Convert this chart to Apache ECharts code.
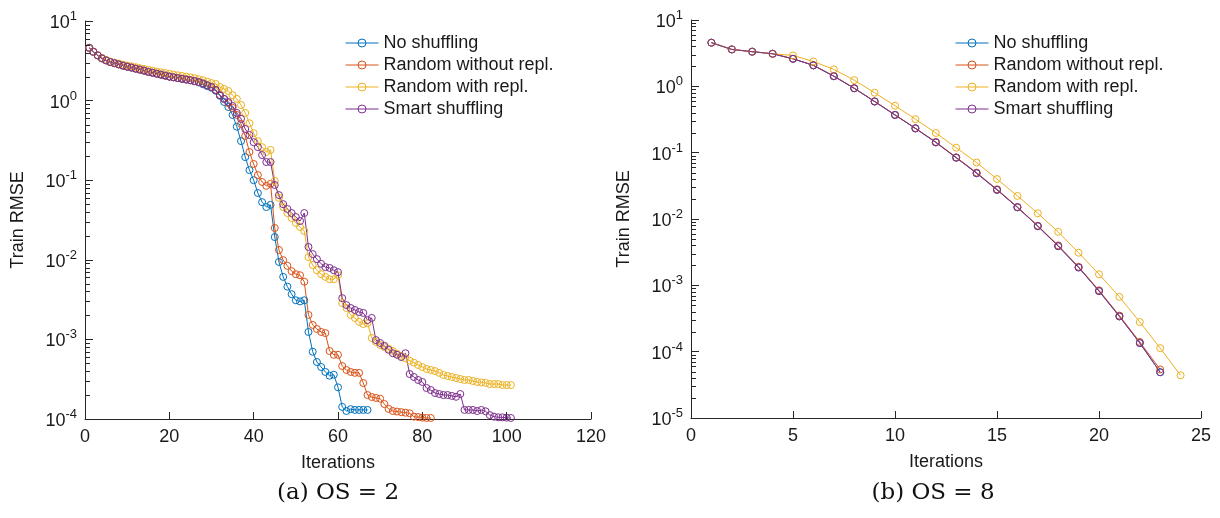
<!DOCTYPE html>
<html>
<head>
<meta charset="utf-8">
<script src="https://cdn.jsdelivr.net/npm/echarts@6/dist/echarts.min.js"></script>
<style>
    html, body { margin: 0; background: #fff; }
    #chart { width: 1220px; height: 518px; }
</style>
</head>
<body>
<div id="chart"></div>
<script>
// series names & colors (MATLAB default order)
const seriesNames = ['No shuffling', 'Random without repl.', 'Random with repl.', 'Smart shuffling']
const seriesColors = ['#0072BD', '#D95319', '#EDB120', '#7E2F8E']

// (a) OS = 2 : train RMSE per iteration (iteration 1..n)
const os2NoShuffle = [4.6, 4.1, 3.7, 3.4, 3.2, 3.05, 2.95, 2.85, 2.75, 2.67, 2.6, 2.52, 2.45, 2.38, 2.3, 2.24, 2.18, 2.12, 2.06, 2.0,
    1.96, 1.92, 1.88, 1.84, 1.8, 1.75, 1.69, 1.6, 1.52, 1.45, 1.33, 1.15, 0.96, 0.83, 0.66, 0.47, 0.31, 0.195, 0.134, 0.10,
    0.069, 0.053, 0.046, 0.049, 0.0193, 0.0094, 0.0061, 0.0046, 0.0037, 0.0031, 0.0030, 0.0031, 0.00124, 0.00070, 0.00052, 0.00045, 0.00039, 0.00035, 0.00036, 0.00025,
    0.000142, 0.000126, 0.000133, 0.00013, 0.00013, 0.00013, 0.00013]
const os2RandNoRepl = [4.6, 4.1, 3.7, 3.4, 3.2, 3.05, 2.95, 2.85, 2.75, 2.67, 2.6, 2.52, 2.45, 2.38, 2.3, 2.24, 2.18, 2.12, 2.06, 2.0,
    1.96, 1.92, 1.88, 1.84, 1.8, 1.76, 1.71, 1.64, 1.56, 1.48, 1.36, 1.17, 1.05, 0.93, 0.81, 0.66, 0.51, 0.36, 0.226, 0.16,
    0.116, 0.095, 0.085, 0.090, 0.0251, 0.0133, 0.0099, 0.0084, 0.0072, 0.0066, 0.0064, 0.0053, 0.00203, 0.00152, 0.00135, 0.00124, 0.0012, 0.000715, 0.00064, 0.00064,
    0.000463, 0.000413, 0.00039, 0.00038, 0.00038, 0.000283, 0.0002, 0.000189, 0.000184, 0.00018, 0.000154, 0.000134, 0.000126, 0.000124, 0.000122, 0.00012, 0.000118, 0.000107, 0.000106, 0.000104,
    0.000103, 0.000103]
const os2RandRepl = [4.6, 4.1, 3.72, 3.45, 3.25, 3.1, 3.0, 2.92, 2.83, 2.76, 2.7, 2.63, 2.56, 2.5, 2.44, 2.38, 2.32, 2.27, 2.22, 2.17,
    2.12, 2.08, 2.04, 2.0, 1.96, 1.91, 1.85, 1.8, 1.73, 1.66, 1.62, 1.48, 1.40, 1.32, 1.17, 1.05, 0.88, 0.70, 0.52, 0.39,
    0.31, 0.26, 0.226, 0.24, 0.098, 0.060, 0.046, 0.0387, 0.0335, 0.029, 0.0258, 0.023, 0.0108, 0.0086, 0.0074, 0.0066, 0.0061, 0.0057, 0.0057, 0.0064,
    0.00286, 0.00248, 0.00203, 0.00186, 0.00166, 0.00156, 0.0016, 0.00104, 0.00093, 0.00085, 0.0008, 0.00076, 0.000715, 0.00066, 0.00062, 0.00058, 0.00054, 0.00051, 0.000477, 0.00045,
    0.000425, 0.000413, 0.0004, 0.00038, 0.000357, 0.000347, 0.000337, 0.000327, 0.000318, 0.000309, 0.000309, 0.0003, 0.000292, 0.000288, 0.000284, 0.000275, 0.000275, 0.000275, 0.000267, 0.000267,
    0.000267]
const os2Smart = [4.6, 4.1, 3.7, 3.4, 3.2, 3.05, 2.95, 2.85, 2.75, 2.67, 2.6, 2.52, 2.45, 2.38, 2.3, 2.24, 2.18, 2.12, 2.06, 2.0,
    1.96, 1.92, 1.88, 1.84, 1.8, 1.76, 1.71, 1.64, 1.56, 1.48, 1.36, 1.17, 1.05, 0.96, 0.855, 0.70, 0.59, 0.44, 0.37, 0.30,
    0.26, 0.207, 0.169, 0.169, 0.087, 0.065, 0.050, 0.0435, 0.0387, 0.0345, 0.0307, 0.0387, 0.0145, 0.0118, 0.0102, 0.0089, 0.0081, 0.0079, 0.0074, 0.0070,
    0.0033, 0.0027, 0.00248, 0.00234, 0.00221, 0.00215, 0.00175, 0.00186, 0.00098, 0.0009, 0.00083, 0.00074, 0.00067, 0.00064, 0.0006, 0.00067, 0.000367, 0.000337, 0.000309, 0.000292,
    0.000245, 0.000231, 0.000212, 0.000206, 0.0002, 0.0002, 0.000195, 0.00019, 0.000206, 0.00013, 0.00013, 0.00013, 0.000126, 0.00013, 0.000125, 0.000112, 0.000107, 0.000105, 0.000105, 0.000104,
    0.000103]

// (b) OS = 8
const os8NoShuffle = [4.55, 3.6, 3.33, 3.1, 2.6, 2.07, 1.42, 0.935, 0.59, 0.37, 0.232, 0.143, 0.084, 0.049, 0.0275, 0.015, 0.0078, 0.0039, 0.00186, 0.00082,
    0.00034, 0.000135, 4.9e-5]
const os8RandNoRepl = [4.55, 3.6, 3.33, 3.1, 2.6, 2.08, 1.43, 0.94, 0.595, 0.372, 0.234, 0.145, 0.085, 0.05, 0.028, 0.0152, 0.0079, 0.004, 0.0019, 0.00084,
    0.00035, 0.00014, 5.4e-5]
const os8RandRepl = [4.55, 3.6, 3.33, 3.1, 2.92, 2.37, 1.8, 1.24, 0.80, 0.51, 0.32, 0.198, 0.119, 0.071, 0.040, 0.0223, 0.0122, 0.0064, 0.0031, 0.00147,
    0.00067, 0.00028, 0.000113, 4.4e-5]
const os8Smart = [4.55, 3.6, 3.33, 3.1, 2.6, 2.07, 1.42, 0.935, 0.59, 0.37, 0.232, 0.143, 0.084, 0.049, 0.0275, 0.015, 0.0078, 0.0039, 0.00186, 0.00082,
    0.00034, 0.000135, 4.9e-5]

const captions = ['(a) OS = 2', '(b) OS = 8']

const axisColor = '#262626'
const textColor = '#1a1a1a'
const sansFont = '"Liberation Sans", Arial, sans-serif'

// 对数轴次刻度 2..9 per decade
const getMinorTicks = (minExp, maxExp) => {
    const list = []
    for (let e = minExp; e < maxExp; e++) {
        for (let k = 2; k <= 9; k++) list.push(k * Math.pow(10, e))
    }
    return list
}

const logLabel = {
    color: textColor,
    margin: 8,
    formatter: v => '{b|10}{s|' + Math.round(Math.log10(v)) + '}',
    rich: {
        b: { fontSize: 18, fontFamily: sansFont, color: textColor, verticalAlign: 'bottom' },
        s: { fontSize: 13, fontFamily: sansFont, color: textColor, verticalAlign: 'bottom', padding: [0, 0, 9, 0] }
    }
}

const makeYAxis = (gridIndex, minExp, maxExp) => ({
    gridIndex,
    type: 'log',
    logBase: 10,
    min: Math.pow(10, minExp),
    max: Math.pow(10, maxExp),
    position: 'left',
    name: 'Train RMSE',
    nameLocation: 'middle',
    nameGap: 58,
    nameTextStyle: { fontSize: 18, fontFamily: sansFont, color: textColor },
    axisLine: { show: true, lineStyle: { color: axisColor, width: 1 } },
    axisTick: { show: true, inside: true, length: 8, lineStyle: { color: axisColor, width: 1 } },
    axisLabel: logLabel,
    splitLine: { show: false }
})

const makeXAxis = (gridIndex, max, interval) => ({
    gridIndex,
    type: 'value',
    min: 0,
    max,
    interval,
    name: 'Iterations',
    nameLocation: 'middle',
    nameGap: 35,
    nameTextStyle: { fontSize: 18, fontFamily: sansFont, color: textColor },
    axisLine: { show: true, onZero: false, lineStyle: { color: axisColor, width: 1 } },
    axisTick: { show: true, inside: true, length: 7, lineStyle: { color: axisColor } },
    axisLabel: { fontSize: 18, fontFamily: sansFont, color: textColor, margin: 9 },
    splitLine: { show: false }
})

const makeSeries = (lists, xAxisIndex, yAxisIndex) => lists.map((list, idx) => ({
    name: seriesNames[idx],
    type: 'line',
    xAxisIndex,
    yAxisIndex,
    data: list.map((v, i) => [i + 1, v]),
    symbol: 'circle',
    symbolSize: 7,
    showSymbol: true,
    lineStyle: { color: seriesColors[idx], width: 1 },
    itemStyle: { color: 'transparent', borderColor: seriesColors[idx], borderWidth: 1 },
    emphasis: { disabled: true }
}))

// minor ticks of the log y axis, placed through the axis scale
const makeMinorTickSeries = (axisIndex, minExp, maxExp) => ({
    type: 'custom',
    xAxisIndex: axisIndex,
    yAxisIndex: axisIndex,
    silent: true,
    clip: false,
    z: 5,
    data: getMinorTicks(minExp, maxExp).map(v => [0, v]),
    renderItem: (params, api) => {
        const pt = api.coord([api.value(0), api.value(1)])
        const y = Math.round(pt[1]) + 0.5
        return {
            type: 'line',
            shape: { x1: pt[0], y1: y, x2: pt[0] + 5, y2: y },
            style: { stroke: axisColor, lineWidth: 1 }
        }
    }
})

const makeLegend = (left, top) => ({
    orient: 'vertical',
    left,
    top,
    padding: 0,
    itemWidth: 33,
    itemHeight: 10,
    itemGap: 4,
    selectedMode: false,
    textStyle: { fontSize: 18, fontFamily: sansFont, color: textColor, lineHeight: 18 },
    data: seriesNames.map((name, idx) => ({
        name,
        itemStyle: { color: 'transparent', borderColor: seriesColors[idx], borderWidth: 1 },
        lineStyle: { color: seriesColors[idx], width: 1 }
    }))
})

const options = {
    animation: false,
    backgroundColor: '#fff',
    grid: [
        { left: 85, top: 21, width: 506, height: 398 },
        { left: 691, top: 20, width: 510, height: 398 }
    ],
    xAxis: [makeXAxis(0, 120, 20), makeXAxis(1, 25, 5)],
    yAxis: [makeYAxis(0, -4, 1), makeYAxis(1, -5, 1)],
    legend: [makeLegend(345, 34), makeLegend(955, 34)],
    series: [
        makeMinorTickSeries(0, -4, 1),
        makeMinorTickSeries(1, -5, 1),
        ...makeSeries([os2NoShuffle, os2RandNoRepl, os2RandRepl, os2Smart], 0, 0),
        ...makeSeries([os8NoShuffle, os8RandNoRepl, os8RandRepl, os8Smart], 1, 1)
    ],
    graphic: captions.map((text, i) => ({
        type: 'text',
        x: i === 0 ? 338 : 933,
        y: 493,
        style: {
            text,
            fill: '#111',
            font: '23px "DejaVu Serif", "Liberation Serif", serif',
            textAlign: 'center',
            textVerticalAlign: 'middle'
        }
    }))
}

const chart = echarts.init(document.getElementById('chart'), null, { renderer: 'canvas' })
chart.setOption(options)
</script>
</body>
</html>
